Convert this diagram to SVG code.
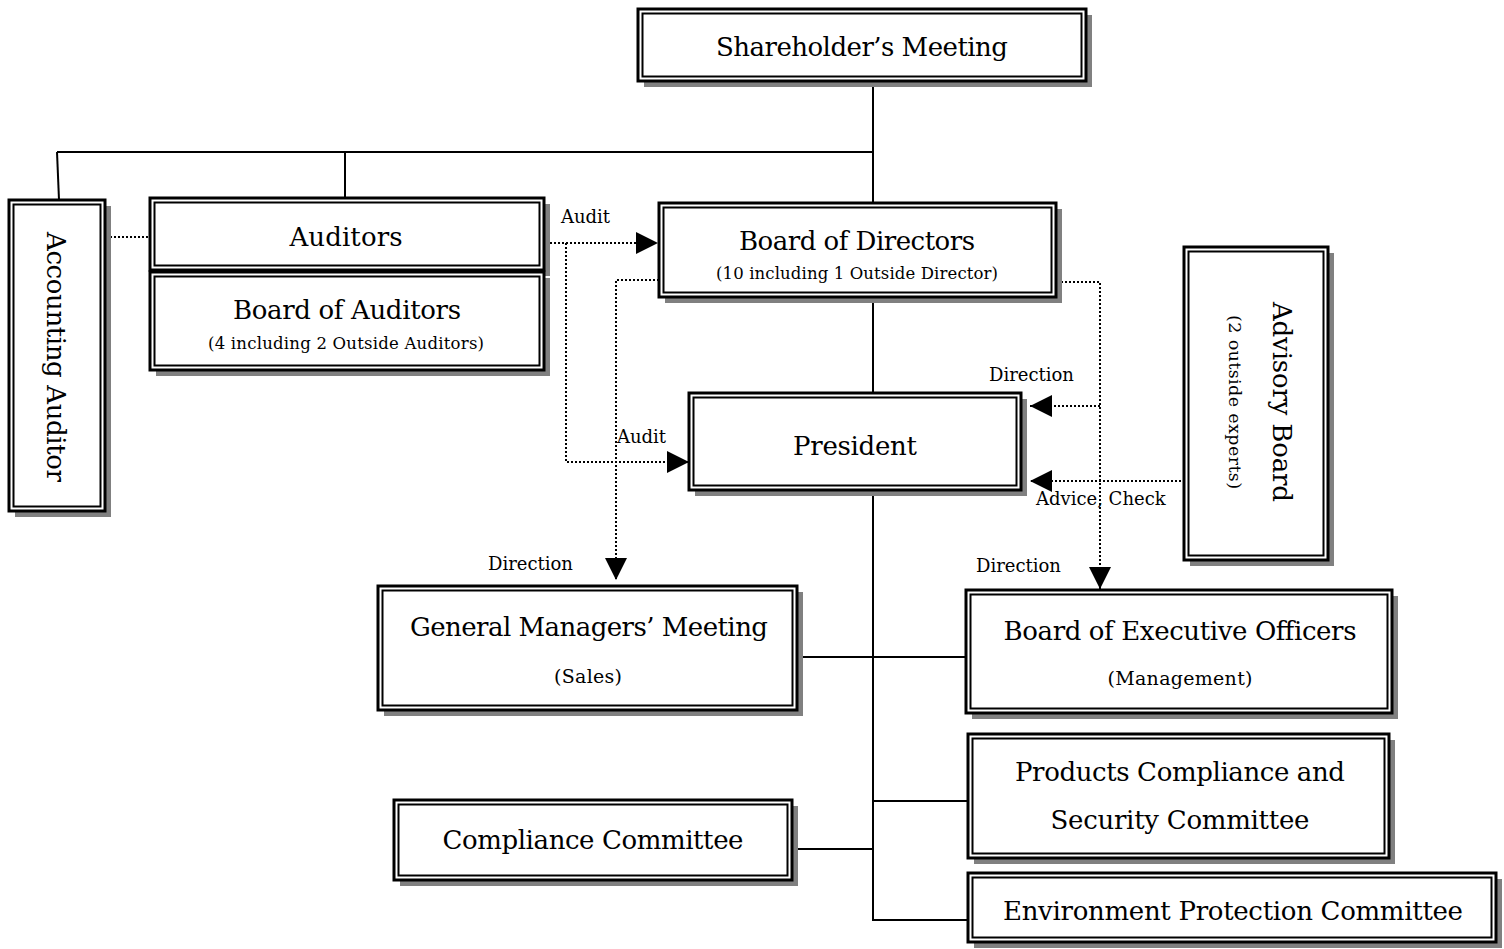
<svg xmlns="http://www.w3.org/2000/svg" width="1504" height="949" viewBox="0 0 1504 949">
<style>
.sh{fill:#808080}
.o{fill:#fff;stroke:#000;stroke-width:3}
.i{fill:none;stroke:#000;stroke-width:2}
.t{font-family:"DejaVu Serif","Liberation Serif",serif;font-size:26px;fill:#000;text-anchor:middle}
.s{font-family:"DejaVu Serif","Liberation Serif",serif;font-size:16.5px;fill:#000;text-anchor:middle}
.m{font-family:"DejaVu Serif","Liberation Serif",serif;font-size:19px;fill:#000;text-anchor:middle}
.l{font-family:"DejaVu Serif","Liberation Serif",serif;font-size:18px;fill:#000}
.ln{fill:none;stroke:#000;stroke-width:2}
.dt{fill:none;stroke:#000;stroke-width:2;stroke-dasharray:2 2}
</style>
<defs>
<marker id="ah" markerUnits="userSpaceOnUse" markerWidth="22" markerHeight="22" refX="22" refY="11" orient="auto">
<path d="M0,0 L22,11 L0,22 Z" fill="#000"/>
</marker>
</defs>

<g id="connectors">
<path class="ln" d="M873,81 V203"/>
<path class="ln" d="M57,152 H873"/>
<path class="ln" d="M345,152 V198"/>
<path class="ln" d="M57,152 L59,200"/>
<path class="ln" d="M873,297 V393"/>
<path class="ln" d="M873,490 V920 H968"/>
<path class="ln" d="M802,657 H966"/>
<path class="ln" d="M873,801 H968"/>
<path class="ln" d="M798,849 H873"/>
<path class="dt" d="M110,237 H150"/>
<path class="dt" d="M550,243 H658" marker-end="url(#ah)"/>
<path class="dt" d="M566,243 V462 H689" marker-end="url(#ah)"/>
<path class="dt" d="M659,280 H616 V580" marker-end="url(#ah)"/>
<path class="dt" d="M1061,282 H1100 V589" marker-end="url(#ah)"/>
<path class="dt" d="M1100,406 H1030" marker-end="url(#ah)"/>
<path class="dt" d="M1185,481 H1030" marker-end="url(#ah)"/>
<text class="l" x="561" y="223">Audit</text>
<text class="l" x="617" y="443">Audit</text>
<text class="l" x="989" y="381">Direction</text>
<text class="l" x="1036" y="505">Advice, Check</text>
<text class="l" x="488" y="570">Direction</text>
<text class="l" x="976" y="572">Direction</text>
</g>

<g id="shareholders-meeting">
<rect class="sh" x="644" y="15" width="448" height="72"/>
<rect class="o" x="638" y="9" width="448" height="72"/>
<rect class="i" x="642.5" y="13.5" width="439" height="63"/>
<text class="t" x="862" y="56" textLength="292">Shareholder’s Meeting</text>
</g>

<g id="accounting-auditor">
<rect class="sh" x="15" y="206" width="96" height="311"/>
<rect class="o" x="9" y="200" width="96" height="311"/>
<rect class="i" x="13.5" y="204.5" width="87" height="302"/>
<text class="t" transform="translate(56,357) rotate(90)" x="0" y="9" textLength="250">Accounting Auditor</text>
</g>

<g id="auditors">
<rect class="sh" x="156" y="204" width="394" height="72"/>
<rect class="o" x="150" y="198" width="394" height="72"/>
<rect class="i" x="154.5" y="202.5" width="385" height="63"/>
<text class="t" x="346" y="246" textLength="113">Auditors</text>
</g>

<g id="board-of-auditors">
<rect class="sh" x="156" y="278" width="394" height="98"/>
<rect class="o" x="150" y="272" width="394" height="98"/>
<rect class="i" x="154.5" y="276.5" width="385" height="89"/>
<text class="t" x="347" y="319" textLength="228">Board of Auditors</text>
<text class="s" x="346" y="349" textLength="276">(4 including 2 Outside Auditors)</text>
</g>

<g id="board-of-directors">
<rect class="sh" x="665" y="209" width="397" height="94"/>
<rect class="o" x="659" y="203" width="397" height="94"/>
<rect class="i" x="663.5" y="207.5" width="388" height="85"/>
<text class="t" x="857" y="250" textLength="236">Board of Directors</text>
<text class="s" x="857" y="279" textLength="282">(10 including 1 Outside Director)</text>
</g>

<g id="president">
<rect class="sh" x="695" y="399" width="332" height="97"/>
<rect class="o" x="689" y="393" width="332" height="97"/>
<rect class="i" x="693.5" y="397.5" width="323" height="88"/>
<text class="t" x="855" y="455" textLength="124">President</text>
</g>

<g id="advisory-board">
<rect class="sh" x="1190" y="253" width="144" height="313"/>
<rect class="o" x="1184" y="247" width="144" height="313"/>
<rect class="i" x="1188.5" y="251.5" width="135" height="304"/>
<g transform="translate(1282,402) rotate(90)">
<text class="t" x="0" y="9" textLength="200">Advisory Board</text>
<text class="s" x="0" y="53" style="font-size:17.5px" textLength="174">(2 outside experts)</text>
</g>
</g>

<g id="general-managers-meeting">
<rect class="sh" x="384" y="592" width="419" height="124"/>
<rect class="o" x="378" y="586" width="419" height="124"/>
<rect class="i" x="382.5" y="590.5" width="410" height="115"/>
<text class="t" x="589" y="636" textLength="358">General Managers’ Meeting</text>
<text class="m" x="588" y="683" textLength="68">(Sales)</text>
</g>

<g id="board-of-executive-officers">
<rect class="sh" x="972" y="596" width="426" height="123"/>
<rect class="o" x="966" y="590" width="426" height="123"/>
<rect class="i" x="970.5" y="594.5" width="417" height="114"/>
<text class="t" x="1180" y="640" textLength="353">Board of Executive Officers</text>
<text class="m" x="1180" y="685" textLength="145">(Management)</text>
</g>

<g id="products-compliance">
<rect class="sh" x="974" y="740" width="421" height="124"/>
<rect class="o" x="968" y="734" width="421" height="124"/>
<rect class="i" x="972.5" y="738.5" width="412" height="115"/>
<text class="t" x="1180" y="781" textLength="330">Products Compliance and</text>
<text class="t" x="1180" y="829" textLength="259">Security Committee</text>
</g>

<g id="compliance-committee">
<rect class="sh" x="400" y="806" width="398" height="80"/>
<rect class="o" x="394" y="800" width="398" height="80"/>
<rect class="i" x="398.5" y="804.5" width="389" height="71"/>
<text class="t" x="593" y="849" textLength="301">Compliance Committee</text>
</g>

<g id="environment-protection">
<rect class="sh" x="974" y="879" width="528" height="69"/>
<rect class="o" x="968" y="873" width="528" height="69"/>
<rect class="i" x="972.5" y="877.5" width="519" height="60"/>
<text class="t" x="1233" y="920" textLength="460">Environment Protection Committee</text>
</g>
</svg>
